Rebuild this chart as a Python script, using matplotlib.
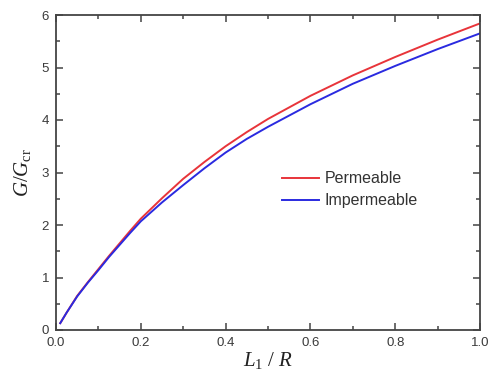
import matplotlib
matplotlib.use("Agg")
import matplotlib.pyplot as plt
from matplotlib.ticker import MultipleLocator

x = [0.01, 0.025, 0.05, 0.075, 0.1, 0.125, 0.15, 0.175, 0.2, 0.25, 0.3, 0.35,
     0.4, 0.45, 0.5, 0.6, 0.7, 0.8, 0.9, 1.0]
permeable = [0.13, 0.33, 0.65, 0.91, 1.16, 1.41, 1.65, 1.89, 2.12, 2.51, 2.88, 3.20,
             3.50, 3.77, 4.02, 4.46, 4.85, 5.20, 5.53, 5.84]
impermeable = [0.13, 0.33, 0.64, 0.90, 1.14, 1.39, 1.62, 1.85, 2.07, 2.43, 2.76, 3.08,
               3.38, 3.64, 3.87, 4.30, 4.69, 5.03, 5.35, 5.65]
xticks = [0.0, 0.2, 0.4, 0.6, 0.8, 1.0]
yticks = [0, 1, 2, 3, 4, 5, 6]

plt.rcParams['mathtext.fontset'] = 'custom'
plt.rcParams['mathtext.rm'] = 'Liberation Serif'
plt.rcParams['mathtext.it'] = 'Liberation Serif:italic'

fig = plt.figure(figsize=(4.88, 3.78), dpi=100)
ax = fig.add_axes([56/488, 48/378, 424/488, 315/378])

ax.plot(x, permeable, color='#e8343a', lw=1.4, label='Permeable')
ax.plot(x, impermeable, color='#2a2ae0', lw=1.4, label='Impermeable')

ax.set_xlim(0, 1.0)
ax.set_ylim(0, 6)
ax.set_xticks(xticks)
ax.set_xticklabels([f"{v:.1f}" for v in xticks])
ax.set_yticks(yticks)
ax.set_yticklabels([str(v) for v in yticks])
ax.xaxis.set_minor_locator(MultipleLocator(0.1))
ax.yaxis.set_minor_locator(MultipleLocator(0.5))

tc = '#444444'
for s in ax.spines.values():
    s.set_color(tc)
    s.set_linewidth(1.3)
ax.tick_params(which='both', direction='in', top=True, right=True, colors=tc,
               labelcolor='#3a3a3a', labelsize=9.5, width=1.1)
ax.tick_params(which='major', length=5, pad=5)
ax.tick_params(which='minor', length=3)
for lab in ax.get_xticklabels() + ax.get_yticklabels():
    lab.set_family('Liberation Sans')

ax.set_xlabel(r'$L_{\rm 1}\ /\ R$', fontsize=15, color='#222222', labelpad=1)
ax.set_ylabel(r'$G/G_{\rm cr}$', fontsize=15, color='#222222', labelpad=6)

leg = ax.legend(loc='upper left', bbox_to_anchor=(0.5, 0.55), frameon=False,
                prop={'family': 'Liberation Sans', 'size': 11.5},
                handlelength=2.3, handletextpad=0.35, labelspacing=0.45)
for t in leg.get_texts():
    t.set_color('#333333')

fig.savefig('out.png', dpi=100)
